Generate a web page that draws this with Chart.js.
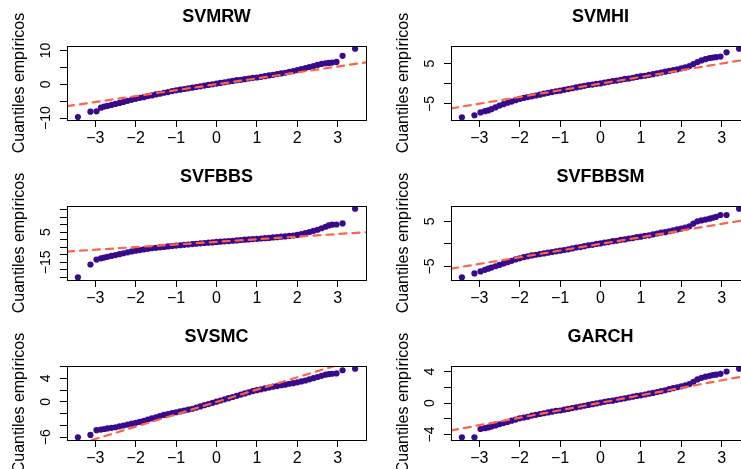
<!DOCTYPE html>
<html>
<head>
<meta charset="utf-8">
<script src="https://cdn.jsdelivr.net/npm/chart.js@4"></script>
<style>
  html, body { margin: 0; padding: 0; background: #fff; overflow: hidden; width: 741px; height: 469px; }
  #grid { position: relative; width: 741px; height: 469px; overflow: hidden; }
  #grid canvas { position: absolute; }
</style>
</head>
<body>
<div id="grid"></div>
<script>
// cuantiles teoricos (eje x)
const qTeo = [-3.43, -3.12, -2.97, -2.86, -2.78,
  -2.7, -2.6, -2.5, -2.4, -2.3, -2.2, -2.1, -2.0, -1.9, -1.8,
  -1.7, -1.6, -1.5, -1.4, -1.3, -1.2, -1.1, -1.0, -0.9, -0.8,
  -0.7, -0.6, -0.5, -0.4, -0.3, -0.2, -0.1,
  0,
  0.1, 0.2, 0.3, 0.4, 0.5, 0.6, 0.7, 0.8, 0.9, 1.0,
  1.1, 1.2, 1.3, 1.4, 1.5, 1.6, 1.7, 1.8, 1.9, 2.0,
  2.1, 2.2, 2.3, 2.4, 2.5, 2.6, 2.7,
  2.78, 2.86, 2.97, 3.12, 3.43];

// cuantiles empiricos de cada modelo
const svmrw = [-9.7, -8.1, -8.0, -6.9, -6.6,
  -6.4, -6.1, -5.8, -5.5, -5.2, -4.9, -4.6, -4.3, -4.0, -3.8,
  -3.5, -3.3, -3.0, -2.8, -2.5, -2.3, -2.0, -1.8, -1.6, -1.4,
  -1.2, -1.0, -0.8, -0.6, -0.4, -0.2, 0.0,
  0.2,
  0.4, 0.6, 0.8, 1.0, 1.2, 1.3, 1.5, 1.7, 1.9, 2.0,
  2.2, 2.4, 2.6, 2.8, 3.0, 3.2, 3.4, 3.7, 3.9, 4.2,
  4.5, 4.8, 5.1, 5.4, 5.7, 6.0, 6.2,
  6.3, 6.4, 6.6, 8.4, 10.5];
const svmhi = [-8.3, -7.8, -7.1, -6.8, -6.6,
  -6.3, -5.85, -5.4, -5.05, -4.7, -4.4, -4.05, -3.75, -3.5, -3.3,
  -3.1, -2.9, -2.7, -2.45, -2.25, -2.05, -1.85, -1.7, -1.5, -1.3,
  -1.1, -0.9, -0.7, -0.5, -0.3, -0.2, 0.0,
  0.1,
  0.3, 0.5, 0.7, 0.8, 1.0, 1.2, 1.3, 1.5, 1.7, 1.9,
  2.0, 2.2, 2.4, 2.6, 2.8, 3.0, 3.2, 3.4, 3.6, 3.85,
  4.1, 4.4, 4.9, 5.4, 5.8, 6.1, 6.4,
  6.5, 6.6, 6.75, 7.8, 8.7];
const svfbbs = [-25.0, -16.5, -13.2, -12.4, -11.9,
  -11.4, -10.8, -10.2, -9.6, -9.0, -8.4, -7.8, -7.3, -6.9, -6.5,
  -6.1, -5.7, -5.4, -5.1, -4.8, -4.5, -4.2, -3.9, -3.7, -3.4,
  -3.2, -2.9, -2.7, -2.4, -2.2, -2.0, -1.8,
  -1.5,
  -1.3, -1.1, -0.9, -0.7, -0.5, -0.2, 0.0, 0.2, 0.4, 0.6,
  0.8, 1.0, 1.2, 1.5, 1.7, 2.0, 2.2, 2.5, 2.8, 3.2,
  3.7, 4.4, 5.1, 5.9, 6.6, 7.6, 8.6,
  9.5, 10.0, 10.1, 10.8, 20.6];
const svfbbsm = [-7.4, -6.55, -6.1, -5.75, -5.5,
  -5.25, -4.95, -4.65, -4.35, -4.05, -3.75, -3.45, -3.2, -2.95, -2.75,
  -2.55, -2.4, -2.25, -2.1, -1.95, -1.8, -1.65, -1.5, -1.35, -1.2,
  -1.0, -0.8, -0.7, -0.5, -0.3, -0.2, 0.0,
  0.1,
  0.3, 0.4, 0.6, 0.7, 0.9, 1.0, 1.2, 1.3, 1.5, 1.6,
  1.8, 1.9, 2.1, 2.3, 2.5, 2.6, 2.8, 3.0, 3.2, 3.4,
  3.6, 3.9, 4.5, 5.0, 5.2, 5.4, 5.6,
  5.8, 6.0, 6.4, 6.4, 7.8];
const svsmc = [-6.0, -5.6, -4.8, -4.7, -4.6,
  -4.5, -4.4, -4.3, -4.15, -4.0, -3.85, -3.7, -3.55, -3.4, -3.2,
  -3.0, -2.8, -2.6, -2.4, -2.2, -2.05, -1.9, -1.75, -1.6, -1.45,
  -1.3, -1.15, -0.95, -0.75, -0.55, -0.35, -0.15,
  0.05,
  0.25, 0.45, 0.65, 0.85, 1.05, 1.25, 1.45, 1.65, 1.85, 2.0,
  2.15, 2.3, 2.45, 2.6, 2.7, 2.85, 2.95, 3.1, 3.2, 3.35,
  3.5, 3.65, 3.85, 4.05, 4.25, 4.45, 4.65,
  4.75, 4.8, 4.85, 5.4, 5.65];
const garch = [-4.35, -4.35, -3.3, -3.2, -3.1,
  -3.0, -2.85, -2.7, -2.55, -2.4, -2.25, -2.1, -1.95, -1.85, -1.75,
  -1.6, -1.5, -1.4, -1.3, -1.2, -1.1, -1.0, -0.95, -0.85, -0.75,
  -0.65, -0.55, -0.45, -0.35, -0.25, -0.15, -0.05,
  0.05,
  0.15, 0.25, 0.3, 0.4, 0.5, 0.6, 0.7, 0.8, 0.9, 0.98,
  1.08, 1.18, 1.28, 1.4, 1.5, 1.62, 1.75, 1.88, 2.0, 2.12,
  2.25, 2.4, 2.7, 3.0, 3.2, 3.35, 3.45,
  3.55, 3.6, 3.7, 4.0, 4.35];

const titles = ['SVMRW', 'SVMHI', 'SVFBBS', 'SVFBBSM', 'SVSMC', 'GARCH'];
const series = [svmrw, svmhi, svfbbs, svfbbsm, svsmc, garch];

// recta qqline: intercepto y pendiente
const lineIntercept = [0.0, 0.05, -1.45, 0.0, 0.0, 0.03];
const lineSlope = [1.75, 1.66, 1.74, 1.48, 2.1, 0.95];

// rangos de los ejes y marcas
const xMin = -3.7, xMax = 3.7;
const xTicks = [-3, -2, -1, 0, 1, 2, 3];
const xTickLabels = ['\u22123', '\u22122', '\u22121', '0', '1', '2', '3'];
const yMin = [-10.55, -8.98, -26.8, -8.0, -6.47, -4.7];
const yMax = [11.3, 9.38, 22.4, 8.4, 6.12, 4.7];
const yTicks = [
  [-10, -5, 0, 5, 10],
  [-5, 0, 5],
  [-25, -20, -15, -10, -5, 0, 5, 10, 15, 20],
  [-5, 0, 5],
  [-6, -4, -2, 0, 2, 4, 6],
  [-4, -2, 0, 2, 4]
];
const yTickLabels = [
  ['\u221210', '', '0', '', '10'],
  ['\u22125', '', '5'],
  ['', '', '\u221215', '', '', '', '5', '', '', ''],
  ['\u22125', '', '5'],
  ['\u22126', '', '', '0', '', '4', ''],
  ['\u22124', '', '0', '', '4']
];
const yTitle = 'Cuantiles empíricos';

const FONT = '"Liberation Sans", Arial, Helvetica, sans-serif';

// caja, etiquetas verticales del eje y y titulo del eje (estilo R)
const rFrame = {
  id: 'rFrame',
  afterDraw(chart, args, opts) {
    const {ctx, chartArea: a} = chart;
    const y = chart.scales.y;
    ctx.save();
    ctx.strokeStyle = '#000';
    ctx.lineWidth = 1;
    ctx.strokeRect(Math.round(a.left) + 0.5, Math.round(a.top) + 0.5,
      Math.round(a.right - a.left), Math.round(a.bottom - a.top));
    ctx.fillStyle = '#000';
    ctx.textAlign = 'center';
    ctx.textBaseline = 'alphabetic';
    ctx.font = '14px ' + FONT;
    y.ticks.forEach(t => {
      const lab = opts.labels[opts.ticks.indexOf(t.value)];
      if (!lab) return;
      ctx.save();
      ctx.translate(a.left - 17, y.getPixelForValue(t.value));
      ctx.rotate(-Math.PI / 2);
      ctx.fillText(lab, 0, 0);
      ctx.restore();
    });
    ctx.font = '16px ' + FONT;
    ctx.translate(23.7, (a.top + a.bottom) / 2);
    ctx.rotate(-Math.PI / 2);
    ctx.fillText(opts.title, 0, 0);
    ctx.restore();
  }
};

const grid = document.getElementById('grid');

titles.forEach((name, i) => {
  const cv = document.createElement('canvas');
  cv.width = 384;
  cv.height = 160;
  cv.style.left = (i % 2) * 384 + 'px';
  cv.style.top = Math.floor(i / 2) * 160 + 'px';
  grid.appendChild(cv);

  const pts = qTeo.map((q, k) => ({x: q, y: series[i][k]}));
  const ends = [xMin, xMax].map(x => ({x: x, y: lineIntercept[i] + lineSlope[i] * x}));

  new Chart(cv, {
    type: 'scatter',
    data: {
      datasets: [{
        data: ends,
        showLine: true,
        pointRadius: 0,
        borderColor: 'tomato',
        borderWidth: 2.2,
        borderDash: [7, 6],
        borderCapStyle: 'round',
        clip: 0
      }, {
        data: pts,
        pointRadius: 3.1,
        pointBackgroundColor: '#3a0a8c',
        pointBorderWidth: 0,
        clip: 0
      }]
    },
    options: {
      responsive: false,
      animation: false,
      events: [],
      layout: {padding: {left: 0, right: 18, top: 0, bottom: 0}, autoPadding: false},
      plugins: {
        legend: {display: false},
        tooltip: {enabled: false},
        title: {
          display: true,
          text: name,
          fullSize: false,
          color: '#000',
          font: {family: FONT, size: 18, weight: 'bold', lineHeight: 1.2},
          padding: {top: 6.4, bottom: 18}
        },
        rFrame: {ticks: yTicks[i], labels: yTickLabels[i], title: yTitle}
      },
      scales: {
        x: {
          type: 'linear',
          position: 'bottom',
          min: xMin,
          max: xMax,
          afterBuildTicks: s => { s.ticks = xTicks.map(v => ({value: v})); },
          afterFit: s => { s.height = 40; },
          ticks: {
            color: '#000',
            font: {family: FONT, size: 16, lineHeight: 1.2},
            padding: 1.5,
            maxRotation: 0,
            autoSkip: false,
            callback: v => xTickLabels[xTicks.indexOf(v)]
          },
          grid: {drawOnChartArea: false, drawTicks: true, tickLength: 7, color: '#000', lineWidth: 1},
          border: {display: false}
        },
        y: {
          type: 'linear',
          position: 'left',
          min: yMin[i],
          max: yMax[i],
          afterBuildTicks: s => { s.ticks = yTicks[i].map(v => ({value: v})); },
          afterFit: s => { s.width = 67; },
          ticks: {display: false},
          grid: {drawOnChartArea: false, drawTicks: true, tickLength: 7, color: '#000', lineWidth: 1},
          border: {display: false}
        }
      }
    },
    plugins: [rFrame]
  });
});
</script>
</body>
</html>
